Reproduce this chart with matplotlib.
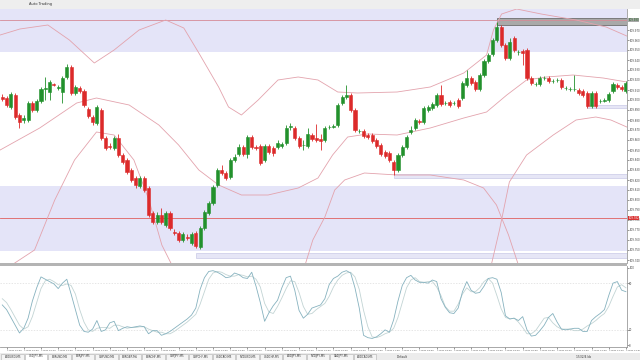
import matplotlib
matplotlib.use("Agg")
import matplotlib.pyplot as plt
from matplotlib.patches import Rectangle

# ---- candle data (USDJPY, M5) ----
opens = [109.903, 109.902, 109.893, 109.905, 109.885, 109.880, 109.880, 109.897, 109.890, 109.899,
         109.911, 109.908, 109.916, 109.912, 109.908, 109.923, 109.933, 109.907, 109.912, 109.909,
         109.891, 109.883, 109.877, 109.890, 109.862, 109.854, 109.852, 109.862, 109.845, 109.840,
         109.830, 109.822, 109.814, 109.822, 109.812, 109.787, 109.778, 109.785, 109.775, 109.787,
         109.768, 109.767, 109.760, 109.763, 109.757, 109.767, 109.753, 109.772, 109.787, 109.797,
         109.815, 109.830, 109.827, 109.823, 109.840, 109.846, 109.853, 109.846, 109.863, 109.853,
         109.854, 109.840, 109.854, 109.852, 109.853, 109.854, 109.857, 109.873, 109.872, 109.862,
         109.855, 109.854, 109.865, 109.862, 109.861, 109.860, 109.873, 109.873, 109.875, 109.897,
         109.903, 109.905, 109.890, 109.869, 109.869, 109.865, 109.865, 109.860, 109.855, 109.848,
         109.847, 109.838, 109.830, 109.845, 109.853, 109.868, 109.872, 109.879, 109.878, 109.890,
         109.892, 109.895, 109.905, 109.897, 109.898, 109.897, 109.900, 109.902, 109.915, 109.922,
         109.918, 109.911, 109.925, 109.939, 109.946, 109.960, 109.973, 109.955, 109.942, 109.962,
         109.948, 109.949, 109.950, 109.922, 109.916, 109.916, 109.922, 109.922, 109.919, 109.920,
         109.920, 109.912, 109.911, 109.911, 109.910, 109.909, 109.907, 109.894, 109.907, 109.899,
         109.899, 109.900, 109.909, 109.915, 109.913, 109.909]
closes = [109.901, 109.895, 109.906, 109.883, 109.878, 109.882, 109.897, 109.890, 109.899, 109.911,
          109.912, 109.918, 109.915, 109.913, 109.922, 109.933, 109.907, 109.913, 109.909, 109.895,
          109.884, 109.878, 109.893, 109.862, 109.852, 109.853, 109.862, 109.845, 109.838, 109.828,
          109.820, 109.815, 109.822, 109.810, 109.785, 109.778, 109.785, 109.778, 109.787, 109.772,
          109.767, 109.760, 109.766, 109.762, 109.766, 109.754, 109.772, 109.788, 109.797, 109.813,
          109.830, 109.827, 109.822, 109.840, 109.843, 109.853, 109.846, 109.863, 109.853, 109.852,
          109.837, 109.854, 109.848, 109.847, 109.857, 109.856, 109.872, 109.874, 109.862, 109.854,
          109.855, 109.866, 109.861, 109.860, 109.859, 109.872, 109.873, 109.874, 109.895, 109.903,
          109.905, 109.890, 109.870, 109.869, 109.864, 109.863, 109.859, 109.854, 109.846, 109.844,
          109.840, 109.830, 109.845, 109.853, 109.863, 109.870, 109.880, 109.878, 109.892, 109.893,
          109.896, 109.905, 109.896, 109.897, 109.895, 109.897, 109.894, 109.917, 109.922, 109.917,
          109.911, 109.925, 109.939, 109.945, 109.960, 109.973, 109.955, 109.942, 109.958, 109.950,
          109.948, 109.947, 109.922, 109.917, 109.916, 109.922, 109.922, 109.919, 109.919, 109.920,
          109.913, 109.912, 109.911, 109.911, 109.907, 109.905, 109.894, 109.907, 109.894, 109.899,
          109.900, 109.906, 109.916, 109.913, 109.911, 109.917]
highs = [109.906, 109.904, 109.908, 109.907, 109.887, 109.885, 109.899, 109.899, 109.901, 109.913,
         109.923, 109.920, 109.917, 109.915, 109.924, 109.936, 109.935, 109.915, 109.914, 109.911,
         109.893, 109.885, 109.895, 109.892, 109.864, 109.857, 109.864, 109.866, 109.847, 109.842,
         109.832, 109.824, 109.824, 109.824, 109.814, 109.789, 109.788, 109.792, 109.789, 109.789,
         109.771, 109.769, 109.768, 109.766, 109.768, 109.769, 109.774, 109.790, 109.799, 109.815,
         109.832, 109.835, 109.829, 109.842, 109.846, 109.856, 109.855, 109.865, 109.865, 109.855,
         109.856, 109.856, 109.856, 109.854, 109.860, 109.858, 109.875, 109.877, 109.874, 109.864,
         109.860, 109.872, 109.867, 109.876, 109.866, 109.874, 109.875, 109.876, 109.897, 109.905,
         109.915, 109.907, 109.892, 109.871, 109.871, 109.867, 109.867, 109.862, 109.857, 109.850,
         109.849, 109.840, 109.847, 109.855, 109.865, 109.874, 109.882, 109.881, 109.894, 109.895,
         109.898, 109.907, 109.915, 109.899, 109.900, 109.899, 109.902, 109.919, 109.930, 109.924,
         109.920, 109.927, 109.941, 109.947, 109.962, 109.978, 109.975, 109.957, 109.962, 109.964,
         109.950, 109.951, 109.952, 109.924, 109.918, 109.924, 109.924, 109.924, 109.921, 109.922,
         109.922, 109.914, 109.913, 109.925, 109.912, 109.911, 109.909, 109.909, 109.909, 109.901,
         109.902, 109.908, 109.918, 109.917, 109.915, 109.919]
lows = [109.899, 109.893, 109.891, 109.881, 109.872, 109.877, 109.878, 109.888, 109.888, 109.897,
        109.900, 109.900, 109.914, 109.910, 109.897, 109.921, 109.905, 109.905, 109.907, 109.893,
        109.882, 109.875, 109.875, 109.860, 109.850, 109.851, 109.850, 109.843, 109.836, 109.826,
        109.818, 109.812, 109.812, 109.808, 109.783, 109.776, 109.776, 109.776, 109.773, 109.770,
        109.765, 109.758, 109.758, 109.760, 109.755, 109.752, 109.751, 109.770, 109.785, 109.795,
        109.813, 109.825, 109.820, 109.821, 109.838, 109.844, 109.844, 109.842, 109.851, 109.850,
        109.835, 109.838, 109.846, 109.844, 109.851, 109.852, 109.855, 109.870, 109.860, 109.852,
        109.850, 109.852, 109.859, 109.858, 109.850, 109.858, 109.871, 109.872, 109.873, 109.895,
        109.901, 109.888, 109.868, 109.867, 109.862, 109.861, 109.857, 109.852, 109.844, 109.842,
        109.838, 109.825, 109.828, 109.843, 109.851, 109.866, 109.870, 109.876, 109.876, 109.888,
        109.890, 109.893, 109.894, 109.895, 109.893, 109.895, 109.892, 109.900, 109.913, 109.915,
        109.909, 109.909, 109.923, 109.937, 109.944, 109.958, 109.953, 109.940, 109.940, 109.948,
        109.945, 109.935, 109.920, 109.915, 109.914, 109.914, 109.920, 109.917, 109.917, 109.918,
        109.911, 109.910, 109.909, 109.909, 109.905, 109.903, 109.892, 109.892, 109.892, 109.897,
        109.898, 109.898, 109.907, 109.911, 109.909, 109.907]

# ---- band curves (bar index, price) ----
upper_x = [-0.5, 4.1, 10.6, 15.6, 21.4, 26, 31.8, 38, 42.2, 45.7, 50.3, 52.6, 55.6, 59.5, 64.1,
           68.8, 73.4, 78, 82.6, 91.8, 99.5, 107.3, 112.6, 114.2, 116.1, 119.6, 125.3, 133.4, 140.4, 145.2]
upper_y = [109.965, 109.971, 109.975, 109.960, 109.937, 109.950, 109.970, 109.980, 109.972, 109.947,
           109.913, 109.893, 109.885, 109.900, 109.920, 109.923, 109.920, 109.908, 109.907, 109.908,
           109.913, 109.927, 109.945, 109.970, 109.986, 109.991, 109.986, 109.980, 109.973, 109.964]
mid_x = [-0.5, 8.7, 17.3, 21.9, 29.5, 36.4, 41, 45.7, 50.3, 55.6, 61.8, 68.8, 73.4, 76.8, 80.3,
         84.9, 91.8, 99.5, 107.3, 112.6, 117.3, 121.9, 126.5, 132.7, 139.7, 145.2]
mid_y = [109.850, 109.872, 109.897, 109.902, 109.895, 109.875, 109.855, 109.830, 109.815, 109.805,
         109.805, 109.812, 109.822, 109.845, 109.863, 109.866, 109.865, 109.872, 109.882, 109.888,
         109.905, 109.920, 109.923, 109.925, 109.922, 109.918]
low1_x = [2.9, 7.5, 12.2, 16.8, 21.9, 26, 30.6, 34.1, 37.1, 39.2]
low1_y = [109.737, 109.750, 109.800, 109.840, 109.868, 109.865, 109.840, 109.800, 109.755, 109.737]
low2_x = [70.4, 72.2, 75, 77.3, 79.6, 84.2, 91.8, 99.5, 107.3, 111.9, 114.9, 117.7, 120]
low2_y = [109.735, 109.760, 109.783, 109.810, 109.820, 109.827, 109.825, 109.825, 109.820, 109.812,
          109.795, 109.765, 109.735]
low3_x = [113.8, 115.6, 117.9, 121.9, 128.1, 133.4, 138, 141.5, 145.2]
low3_y = [109.737, 109.770, 109.818, 109.845, 109.865, 109.880, 109.883, 109.880, 109.873]

# ---- zones / levels ----
zones = [(109.948, 109.995), (109.749, 109.814)]
strips = [(45, 109.742, 109.747), (91, 109.822, 109.826), (136, 109.892, 109.895)]
grey_box = (115, 109.975, 109.982)
level_top = 109.980
level_bid = 109.782

price_ticks = [109.740, 109.750, 109.760, 109.770, 109.780, 109.790, 109.800, 109.810, 109.820,
               109.830, 109.840, 109.850, 109.860, 109.870, 109.880, 109.890, 109.900, 109.910,
               109.920, 109.930, 109.940, 109.950, 109.960, 109.970]

# ---- stochastic ----
stoch_main = [52, 46, 36, 26, 16, 22, 35, 57, 74, 88,
              85, 82, 79, 73, 80, 85, 66, 46, 26, 18,
              17, 21, 32, 18, 20, 29, 31, 19, 22, 24,
              23, 24, 25, 24, 15, 19, 19, 13, 15, 18,
              22, 26, 30, 34, 39, 48, 72, 87, 95, 96,
              94, 91, 87, 88, 93, 91, 87, 86, 94, 76,
              55, 31, 42, 51, 58, 74, 87, 89, 71, 45,
              35, 40, 48, 50, 52, 60, 78, 86, 89, 94,
              96, 93, 74, 48, 13, 10, 9, 11, 15, 20,
              17, 33, 57, 77, 87, 90, 84, 81, 81, 80,
              84, 82, 60, 49, 42, 41, 48, 69, 82, 71,
              67, 68, 76, 86, 87, 85, 68, 38, 34, 35,
              32, 37, 20, 12, 13, 19, 26, 36, 41, 30,
              21, 20, 21, 22, 22, 18, 18, 32, 37, 41,
              46, 64, 80, 82, 71, 69]
stoch_signal = [60, 55, 46, 36, 26, 21, 24, 37, 55, 73,
                83, 85, 82, 78, 77, 79, 77, 66, 46, 30,
                20, 18, 22, 23, 23, 22, 26, 26, 24, 22,
                23, 23, 24, 24, 21, 19, 17, 17, 15, 15,
                18, 22, 26, 30, 35, 40, 53, 69, 85, 93,
                95, 94, 91, 89, 89, 91, 90, 88, 89, 85,
                75, 54, 43, 41, 50, 61, 73, 83, 82, 68,
                50, 40, 41, 46, 50, 54, 63, 75, 84, 90,
                93, 94, 88, 72, 45, 24, 11, 10, 12, 15,
                17, 22, 36, 55, 74, 84, 87, 82, 81, 82,
                82, 75, 64, 50, 44, 44, 53, 66, 74, 69,
                69, 74, 82, 86, 80, 64, 47, 36, 34, 35,
                30, 23, 15, 15, 19, 27, 35, 36, 29, 24,
                21, 21, 21, 19, 19, 21, 25, 28, 32, 37,
                41, 50, 63, 75, 78, 74]

time_labels = ["7 May 10:00", "7 May 10:20", "7 May 10:40", "7 May 11:00", "7 May 11:20",
               "7 May 11:40", "7 May 12:00", "7 May 12:20", "7 May 12:40", "7 May 13:00",
               "7 May 13:20", "7 May 13:40", "7 May 14:00", "7 May 14:20", "7 May 14:40",
               "7 May 15:00", "7 May 15:20", "7 May 15:40", "7 May 16:00", "7 May 16:20",
               "7 May 16:40", "7 May 17:00", "7 May 17:20", "7 May 17:40", "7 May 18:00",
               "7 May 18:20", "7 May 18:40", "7 May 19:00", "7 May 19:20", "7 May 19:40",
               "7 May 20:00", "7 May 20:20", "7 May 20:40", "7 May 21:00", "7 May 21:20",
               "7 May 21:40", "7 May 22:00"]
tabs = ["AUDUSD,M5", "USDJPY,M5", "EURUSD,M5", "EURJPY,M5", "GBPUSD,M5", "EURGBP,M5",
        "EURCHF,M5", "GBPJPY,M5", "GBPCHF,M5", "USDCAD,M5", "NZDUSD,M5", "USDCHF,M5",
        "AUDJPY,M5", "NZDJPY,M5", "CADJPY,M5", "AUDCAD,M5"]

UP, DOWN = "#22912c", "#dc2a2a"
LAV = "#e4e4f8"
BAND = "#e3a3ad"
XL = (-0.53, 145.25)
PW = 627 / 640  # width of the chart panes, the price scale sits to the right

fig = plt.figure(figsize=(6.4, 3.6), dpi=100)
fig.patch.set_facecolor("white")

# toolbar
fig.patches.append(Rectangle((0, 1 - 9 / 360), 1, 9 / 360, transform=fig.transFigure,
                             facecolor="#eeeeee", edgecolor="none"))
fig.text(0.045, 1 - 4.5 / 360, "Auto Trading", fontsize=2.6, va="center", color="#333333")
# separator between panes
fig.patches.append(Rectangle((0, 94 / 360), PW, 3 / 360, transform=fig.transFigure,
                             facecolor="#b4b4b4", edgecolor="none"))
# tab bar
fig.patches.append(Rectangle((0, 0), 1, 7 / 360, transform=fig.transFigure,
                             facecolor="#ececec", edgecolor="none"))

# ---- main price pane ----
ax = fig.add_axes([0, 97 / 360, PW, 254 / 360])
ax.set_xlim(*XL)
ax.set_ylim(109.737, 109.991)
for lo, hi in zones:
    ax.axhspan(lo, hi, color=LAV, lw=0, zorder=0)
for start, lo, hi in strips:
    ax.add_patch(Rectangle((start, lo), XL[1] - start, hi - lo, facecolor="#e6e6f6",
                           edgecolor="#c9c9e6", lw=0.5, zorder=1))
ax.add_patch(Rectangle((grey_box[0], grey_box[1]), XL[1] - grey_box[0], grey_box[2] - grey_box[1],
                       facecolor="#a9a9a9", edgecolor="#6e6e6e", lw=0.6, zorder=1))
ax.axhline(level_top, color="#d58a96", lw=0.6, zorder=1)
ax.axhline(level_bid, color="#e06060", lw=0.6, zorder=1)

for bx, by in [(upper_x, upper_y), (mid_x, mid_y), (low1_x, low1_y), (low2_x, low2_y), (low3_x, low3_y)]:
    ax.plot(bx, by, color=BAND, lw=0.6, zorder=2)

idx = list(range(len(opens)))
cols = [UP if c >= o else DOWN for o, c in zip(opens, closes)]
ax.vlines(idx, lows, highs, colors=cols, lw=0.6, zorder=3)
ax.bar(idx, [c - o for o, c in zip(opens, closes)], bottom=opens, width=0.72,
       color=cols, edgecolor=cols, lw=0.4, zorder=4)

ax.yaxis.tick_right()
ax.set_yticks(price_ticks)
ax.set_yticklabels([f"{p:.3f}" for p in price_ticks])
ax.tick_params(axis="y", labelsize=1.9, length=1.2, width=0.4, pad=0.4, colors="#444444")
ax.set_xticks([])
for s in ["top", "left", "bottom"]:
    ax.spines[s].set_visible(False)
ax.spines["right"].set_color("#9a9a9a")
ax.spines["right"].set_linewidth(0.6)

span = 109.991 - 109.737
ax.text(1.002, (level_bid - 109.737) / span, f"{level_bid:.3f}", transform=ax.transAxes,
        fontsize=1.9, color="white", va="center", ha="left",
        bbox=dict(boxstyle="square,pad=0.15", fc="#d93030", ec="none"))
ax.text(1.002, (level_top - 109.737) / span, f"{level_top:.3f}", transform=ax.transAxes,
        fontsize=1.9, color="#1a5a1a", va="center", ha="left",
        bbox=dict(boxstyle="square,pad=0.15", fc="#a9a9a9", ec="none"))

# ---- stochastic pane ----
ax2 = fig.add_axes([0, 13 / 360, PW, 81 / 360])
ax2.set_xlim(*XL)
ax2.set_ylim(-2, 102)
ax2.axhline(80, color="#dcdcdc", lw=0.5, ls=(0, (2, 2)))
ax2.axhline(20, color="#dcdcdc", lw=0.5, ls=(0, (2, 2)))
ax2.plot(idx, stoch_signal, color="#c2d4d4", lw=0.6)
ax2.plot(idx, stoch_main, color="#86b2bf", lw=0.6)
ax2.yaxis.tick_right()
ax2.set_yticks([0, 20, 80, 100])
ax2.tick_params(axis="y", labelsize=1.9, length=1.2, width=0.4, pad=0.4, colors="#444444")
tick_pos = list(range(1, len(opens), 4))
ax2.set_xticks(tick_pos)
ax2.set_xticklabels(time_labels, ha="left")
ax2.tick_params(axis="x", labelsize=1.7, length=1.5, width=0.4, pad=0.5, colors="#444444")
for s in ["top", "left"]:
    ax2.spines[s].set_visible(False)
for s in ["right", "bottom"]:
    ax2.spines[s].set_color("#9a9a9a")
    ax2.spines[s].set_linewidth(0.6)

# tabs
tab_w = 23.5 / 640
for k, name in enumerate(tabs):
    x0 = 1 / 640 + k * tab_w
    fig.patches.append(Rectangle((x0, 0.5 / 360), tab_w - 1 / 640, 6 / 360, transform=fig.transFigure,
                                 facecolor="white" if k == 1 else "#f4f4f4",
                                 edgecolor="#b0b0b0", lw=0.4))
    fig.text(x0 + tab_w / 2, 3.5 / 360, name, fontsize=2.0, ha="center", va="center", color="#333333")
fig.text(0.62, 3.5 / 360, "Default", fontsize=2.2, va="center", color="#333333")
fig.text(0.90, 3.5 / 360, "1532/4 kb", fontsize=2.2, va="center", color="#333333")

fig.savefig("out.png", dpi=100)
